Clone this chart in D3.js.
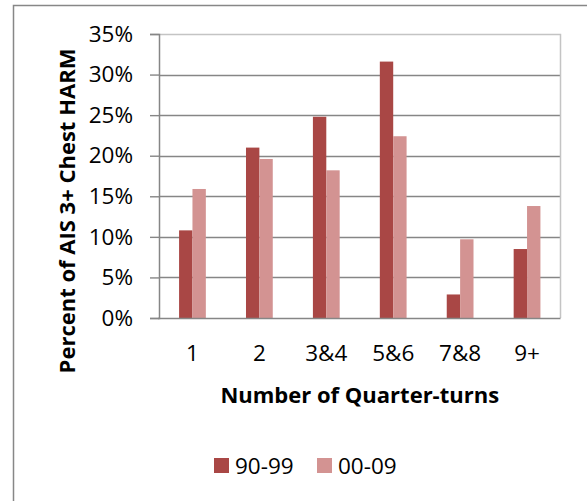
<!DOCTYPE html>
<html>
<head>
<meta charset="utf-8">
<script src="https://cdn.jsdelivr.net/npm/d3@7"></script>
<style>
  html, body { margin: 0; padding: 0; background: #fff; }
  svg { display: block; }
  text { font-family: "Open Sans", "Noto Sans", sans-serif; fill: #000; }
</style>
</head>
<body>
<svg id="chart" width="587" height="501"></svg>
<script>
// Quarter-turn groups and the share of AIS 3+ chest harm in each decade
const categories = ["1", "2", "3&4", "5&6", "7&8", "9+"];
const seriesNames = ["90-99", "00-09"];
const values9099 = [0.108, 0.210, 0.248, 0.316, 0.029, 0.085];
const values0009 = [0.159, 0.196, 0.182, 0.224, 0.097, 0.138];
const yTicks = [0, 0.05, 0.10, 0.15, 0.20, 0.25, 0.30, 0.35];
const colors = ["#A94745", "#D39392"];

const svg = d3.select("#chart");

// Outer chart frame
svg.append("rect")
  .attr("x", 13.5).attr("y", 5.5)
  .attr("width", 620).attr("height", 520)
  .attr("fill", "none").attr("stroke", "#878787").attr("stroke-width", 1.5);

const plot = { left: 159, right: 560.5, top: 34, bottom: 318 };

const x = d3.scaleBand().domain(categories).range([plot.left, plot.right]).padding(0);
const y = d3.scaleLinear().domain([0, 0.35]).range([plot.bottom, plot.top]);

// Horizontal gridlines
svg.append("g")
  .selectAll("line")
  .data(yTicks.filter(t => t > 0 && t < 0.35))
  .join("line")
  .attr("x1", plot.left).attr("x2", plot.right)
  .attr("y1", d => Math.round(y(d)) + 0.5).attr("y2", d => Math.round(y(d)) + 0.5)
  .attr("stroke", "#868686").attr("stroke-width", 1.4);

// Plot area border (top and right)
svg.append("path")
  .attr("d", `M${plot.left},${plot.top + 0.5}H${plot.right}V${plot.bottom}`)
  .attr("fill", "none").attr("stroke", "#c4c4c4").attr("stroke-width", 1.5);

// Bars
const barW = x.bandwidth() * 0.2;
const series = [values9099, values0009];
series.forEach((vals, si) => {
  svg.append("g")
    .selectAll("rect")
    .data(vals)
    .join("rect")
    .attr("x", (d, i) => x(categories[i]) + x.bandwidth() / 2 - barW + si * barW)
    .attr("y", d => y(d))
    .attr("width", barW)
    .attr("height", d => y(0) - y(d))
    .attr("fill", colors[si]);
});

// Y axis
const yAxis = d3.axisLeft(y)
  .tickValues(yTicks)
  .tickSize(9)
  .tickPadding(17)
  .tickFormat(d => Math.round(d * 100) + "%");
const gy = svg.append("g")
  .attr("transform", `translate(${plot.left},0)`)
  .call(yAxis);
gy.select(".domain").attr("stroke", "#868686").attr("stroke-width", 1.5);
gy.selectAll(".tick line").attr("stroke", "#868686").attr("stroke-width", 1.4);
gy.selectAll(".tick text")
  .attr("font-family", "'Open Sans', sans-serif")
  .attr("font-size", 22.5).attr("fill", "#000");

// X axis baseline
svg.append("line")
  .attr("x1", plot.left - 1).attr("x2", plot.right)
  .attr("y1", plot.bottom + 0.5).attr("y2", plot.bottom + 0.5)
  .attr("stroke", "#868686").attr("stroke-width", 1.5);

// Category labels
svg.append("g")
  .selectAll("text")
  .data(categories)
  .join("text")
  .attr("x", d => x(d) + x.bandwidth() / 2)
  .attr("y", 361)
  .attr("text-anchor", "middle")
  .attr("font-size", 22.5)
  .text(d => d);

// Axis titles
svg.append("text")
  .attr("x", (plot.left + plot.right) / 2)
  .attr("y", 403)
  .attr("text-anchor", "middle")
  .attr("font-size", 22)
  .attr("font-weight", "bold")
  .text("Number of Quarter-turns");

svg.append("text")
  .attr("transform", "translate(75,211) rotate(-90)")
  .attr("text-anchor", "middle")
  .attr("font-size", 22)
  .attr("font-weight", "bold")
  .text("Percent of AIS 3+ Chest HARM");

// Legend
const legendX = [214, 317];
const legend = svg.append("g")
  .selectAll("g")
  .data(seriesNames)
  .join("g")
  .attr("transform", (d, i) => `translate(${legendX[i]},458)`);
legend.append("rect")
  .attr("width", 15).attr("height", 15)
  .attr("fill", (d, i) => colors[i]);
legend.append("text")
  .attr("x", 21).attr("y", 15.5)
  .attr("font-size", 22.5)
  .text(d => d);
</script>
</body>
</html>
